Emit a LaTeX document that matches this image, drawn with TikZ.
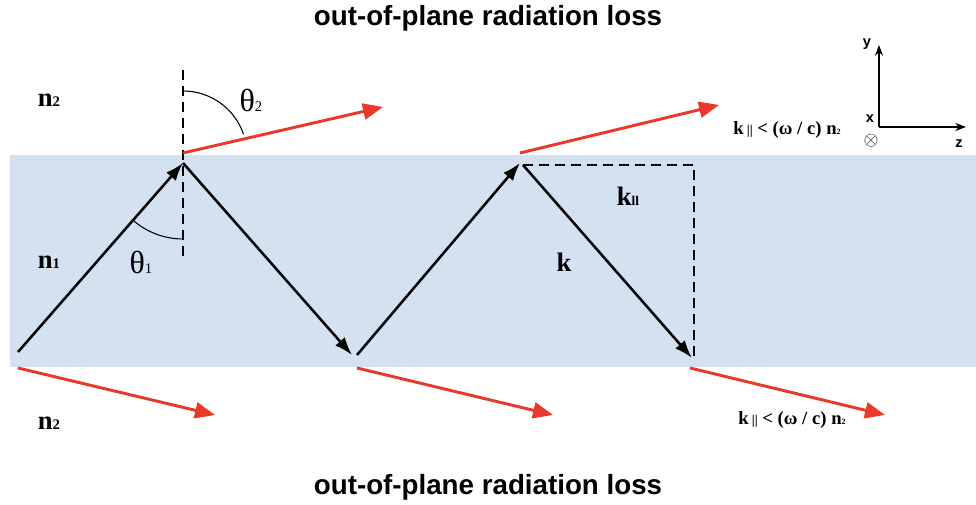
\documentclass[tikz,border=0pt]{standalone}
\usepackage{fontspec}
\setmainfont{Liberation Serif}
\setsansfont{Liberation Sans}
\usetikzlibrary{arrows.meta, calc}

\definecolor{slabblue}{RGB}{211,225,241}
\definecolor{lossred}{RGB}{232,57,42}

% small index set on the baseline
\newcommand{\lowsub}[2]{{\fontsize{#1}{#1}\selectfont #2}}

\begin{document}
\begin{tikzpicture}[
    x=0.75pt, y=0.75pt,
    ray/.style={-{Latex[length=13.5pt, width=9.5pt]}, line width=1.9pt},
    leak/.style={draw=lossred, -{Triangle[length=15pt, width=12pt]}, line width=2.2pt},
    guide/.style={dashed, dash pattern=on 7.5pt off 4.5pt, line width=1.7pt},
    title/.style={font=\sffamily\bfseries\fontsize{20.8}{24}\selectfont},
    idx/.style={font=\bfseries\fontsize{20}{22}\selectfont},
    ang/.style={font=\fontsize{24}{26}\selectfont},
    cond/.style={font=\bfseries\fontsize{14}{16}\selectfont},
    axis/.style={-{Stealth[length=8pt, width=6pt]}, line width=1.5pt},
    axlab/.style={font=\sffamily\bfseries\fontsize{11}{12}\selectfont, inner sep=0pt}
  ]
    \useasboundingbox (0,0) rectangle (976,505);
    % slab
    \fill[slabblue] (10,138) rectangle (976,350);

    % bounce points
    \coordinate (a) at (18,153);
    \coordinate (b) at (183,342);
    \coordinate (c) at (352,150);
    \coordinate (d) at (357,150);
    \coordinate (e) at (520,342);
    \coordinate (f) at (523,340);
    \coordinate (g) at (692,147);
    \coordinate (h) at (694,340);
    \coordinate (hb) at (694,147);

    % normal
    \coordinate (nt) at (183,435);
    \coordinate (nb) at (183,243);
    \draw[guide] (nt) -- (nb);

    % zigzag rays
    \draw[ray] (a) -- (b);
    \draw[ray] (b) -- (c);
    \draw[ray] (d) -- (e);
    \draw[ray] (f) -- (g);
    \draw[guide] (f) -- (h) -- (hb);

    % leaking rays
    \coordinate (r1) at (183,352); \coordinate (r1e) at (383,398);
    \coordinate (r2) at (520,352); \coordinate (r2e) at (719,400);
    \coordinate (r3) at (18,137);  \coordinate (r3e) at (215,90);
    \coordinate (r4) at (357,137); \coordinate (r4e) at (553,90);
    \coordinate (r5) at (690,137); \coordinate (r5e) at (885,90);
    \draw[leak] (r1) -- (r1e);
    \draw[leak] (r2) -- (r2e);
    \draw[leak] (r3) -- (r3e);
    \draw[leak] (r4) -- (r4e);
    \draw[leak] (r5) -- (r5e);

    % angles
    \draw[line width=0.8pt] ($(183,350)+(90:64)$) arc (90:19:64);
    \draw[line width=0.8pt] ($(b)+(229:76)$) arc (229:270:76);
    \node[ang] (th2) at (251,405) {θ\lowsub{11}{2}};
    \node[ang] (th1) at (141,243) {θ\lowsub{11}{1}};

    % indices
    \node[idx] (ntop) at (49,405) {n\lowsub{11}{2}};
    \node[idx] (ncore) at (49,243) {n\lowsub{11}{1}};
    \node[idx] (nbot) at (49,82) {n\lowsub{11}{2}};

    % wave vector
    \node[idx] (kpar) at (628,309) {k\lowsub{10}{ll}};
    \node[idx] (kvec) at (564,243) {k};

    % cut-off condition
    \node[cond] (ctop) at (787,375) {k\,\lowsub{10}{||} < (ω / c) n\lowsub{6}{2}};
    \node[cond] (cbot) at (792,85) {k\,\lowsub{10}{||} < (ω / c) n\lowsub{6}{2}};

    % axes
    \coordinate (o) at (879,378);
    \coordinate (ytip) at (879,460);
    \coordinate (ztip) at (966,378);
    \draw[axis] (o) -- (ytip);
    \draw[axis] (o) -- (ztip);
    \node[axlab] (ylab) at (867,461) {y};
    \node[axlab] (zlab) at (959,361) {z};
    \node[axlab] (xlab) at (870,386) {x};
    \node[inner sep=0pt, font=\fontsize{14}{14}\selectfont] (xdir) at (871,364) {$\otimes$};

    % titles
    \node[title] (losstop) at (488,487) {out-of-plane radiation loss};
    \node[title] (lossbot) at (488,18) {out-of-plane radiation loss};
  \end{tikzpicture}
\end{document}
